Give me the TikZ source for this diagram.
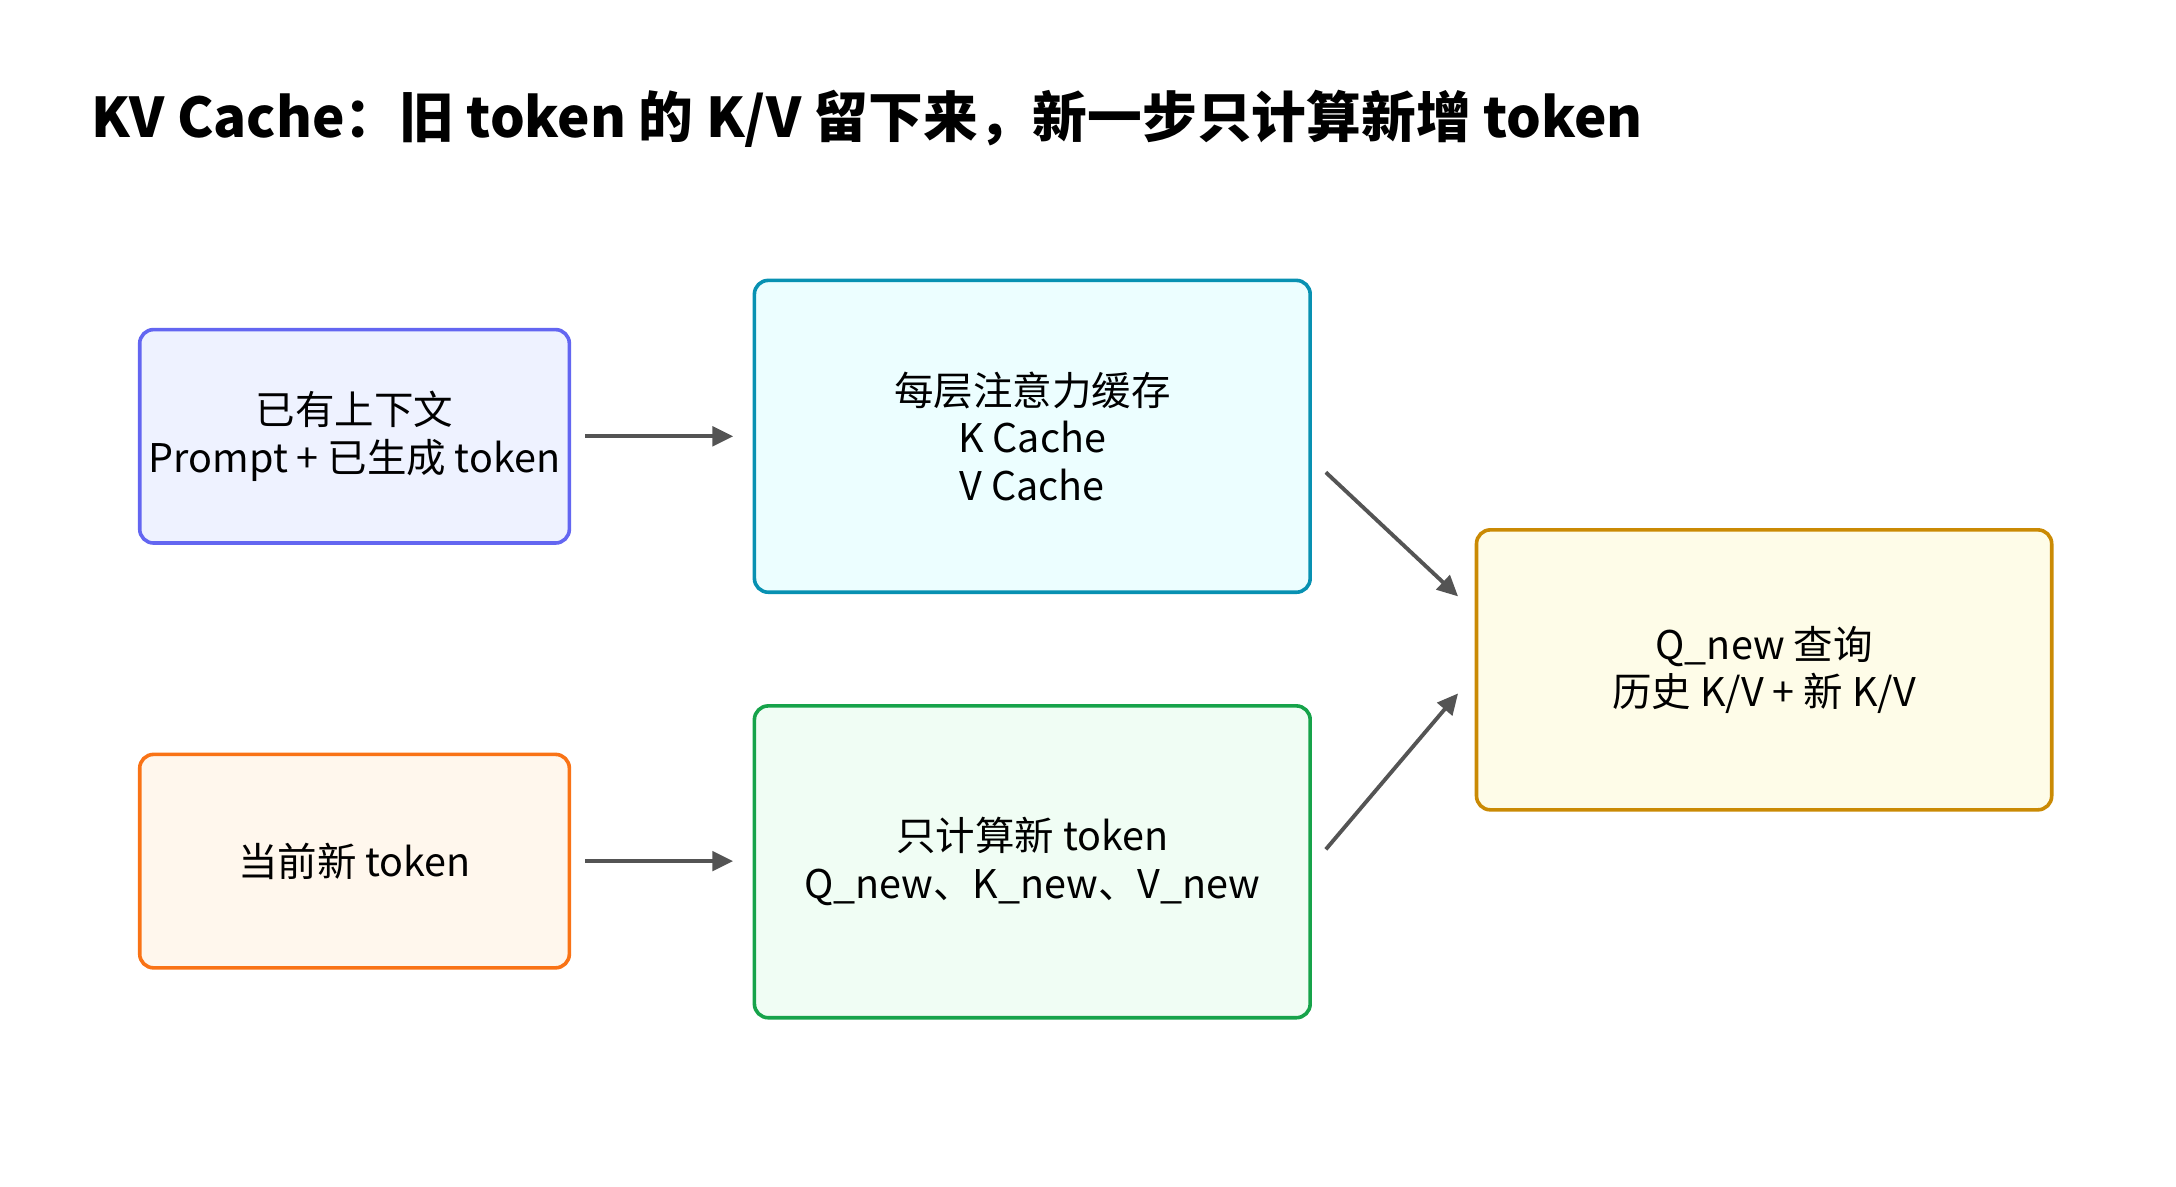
\documentclass[tikz,border=0pt]{standalone}
\usepackage{fontspec}
\setmainfont{Noto Sans CJK SC}
\usetikzlibrary{arrows.meta}
\begin{document}
\begin{tikzpicture}[x=1pt,y=-1pt,
  box/.style={draw,line width=2.6pt,rounded corners=10pt,align=center,font=\fontsize{28.5}{34.5}\selectfont,anchor=north west,inner sep=0pt},
  arr/.style={draw=black!67,line width=2.8pt,-{Triangle[length=15pt,width=14pt]}}]
\useasboundingbox (0,0) rectangle (1570,856);
\definecolor{aF}{HTML}{EEF2FF}\definecolor{aS}{HTML}{6366F1}
\definecolor{bF}{HTML}{ECFEFF}\definecolor{bS}{HTML}{0891B2}
\definecolor{cF}{HTML}{FFF7ED}\definecolor{cS}{HTML}{F97316}
\definecolor{dF}{HTML}{F0FDF4}\definecolor{dS}{HTML}{16A34A}
\definecolor{eF}{HTML}{FEFCE8}\definecolor{eS}{HTML}{CA8A04}
\node[anchor=west,font=\fontsize{39.5}{42}\selectfont\bfseries,inner sep=0pt] (T) at (66,86) {KV Cache：旧 token 的 K/V 留下来，新一步只计算新增 token};
\node[box,fill=aF,draw=aS,minimum width=310pt,minimum height=154pt] (A) at (99.5,236.5) {已有上下文\\Prompt + 已生成 token};
\node[box,fill=bF,draw=bS,minimum width=401pt,minimum height=225pt] (B) at (543,201) {每层注意力缓存\\K Cache\\V Cache};
\node[box,fill=cF,draw=cS,minimum width=310pt,minimum height=154pt] (C) at (99.5,543) {当前新 token};
\node[box,fill=dF,draw=dS,minimum width=401pt,minimum height=225pt] (D) at (543,508) {只计算新 token\\Q\_new、K\_new、V\_new};
\node[box,fill=eF,draw=eS,minimum width=415pt,minimum height=202pt] (E) at (1064,381) {Q\_new 查询\\历史 K/V + 新 K/V};
\draw[arr,shorten <=10pt,shorten >=14pt] (A.east) -- (B.west |- A.east);
\draw[arr,shorten <=10pt,shorten >=14pt] (C.east) -- (D.west |- C.east);
\draw[arr] ([shift={(10,26)}]B.east) -- ([shift={(-12,-53)}]E.west);
\draw[arr] ([shift={(10,-9)}]D.east) -- ([shift={(-12,17)}]E.west);
\end{tikzpicture}
\end{document}
